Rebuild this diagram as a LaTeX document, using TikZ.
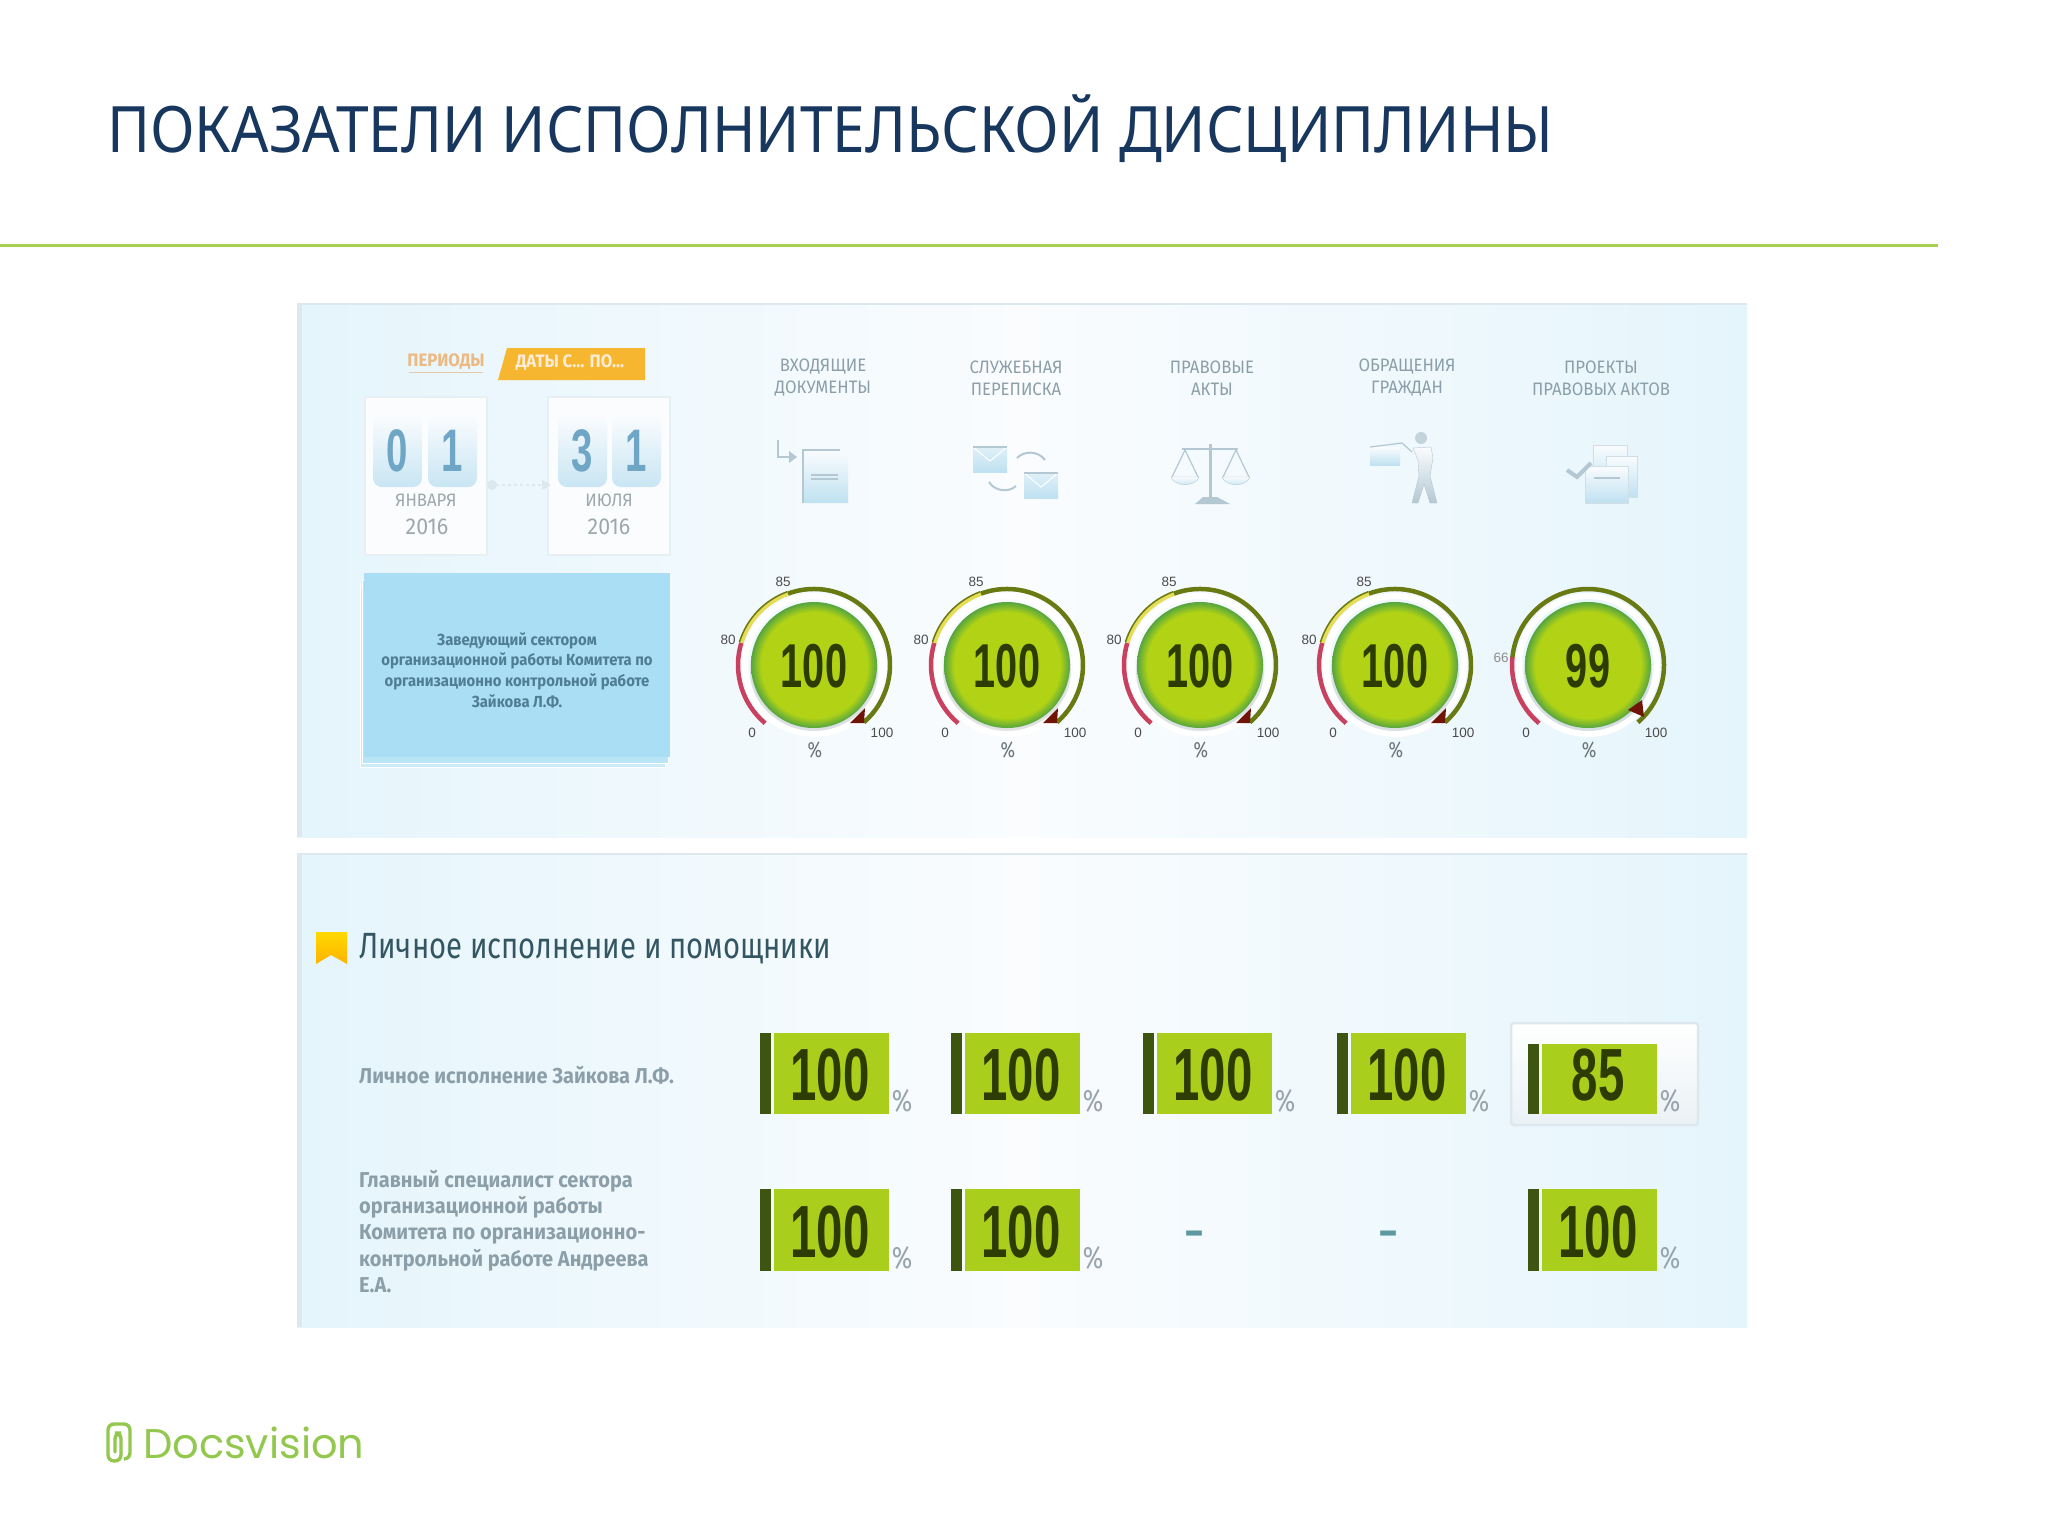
\documentclass[tikz,border=0pt]{standalone}
\usepackage{fontspec}
\setmainfont{Noto Sans}
\newfontfamily\titlefont[FakeStretch=0.917]{Noto Sans}
\newfontfamily\condfont[FakeStretch=0.8]{Fira Sans}
\newfontfamily\midfont[FakeStretch=0.93]{Fira Sans}
\newfontfamily\numfont[FakeStretch=0.64]{Liberation Sans}
\newfontfamily\tickfont{Liberation Sans}
\newfontfamily\dashfont{DejaVu Sans}
\newfontfamily\logofont{Poppins}
\usetikzlibrary{arrows.meta}
\newcommand{\fs}[2]{\fontsize{#1}{#2}\selectfont}
\definecolor{titleblue}{HTML}{17375E}
\definecolor{rulegreen}{HTML}{A8CE52}
\definecolor{panelblue}{HTML}{E5F5FC}
\definecolor{panelwhite}{HTML}{FAFCFE}
\definecolor{paneledge}{HTML}{DCE8EE}
\definecolor{headgray}{HTML}{8C9FA9}
\definecolor{icongray}{HTML}{B4C8D3}
\definecolor{iconblue}{HTML}{BFE1F1}
\definecolor{cardblue}{HTML}{A9DEF5}
\definecolor{cardtext}{HTML}{4F7D93}
\definecolor{digitblue}{HTML}{6FA6C6}
\definecolor{tabamber}{HTML}{F6B630}
\definecolor{ballgreen}{HTML}{B2D315}
\definecolor{ballrim}{HTML}{55A540}
\definecolor{ringred}{HTML}{C8415F}
\definecolor{ringyellow}{HTML}{E6DC55}
\definecolor{ringolive}{HTML}{6A7A12}
\definecolor{darkred}{HTML}{701408}
\definecolor{numdark}{HTML}{2C3C02}
\definecolor{bardark}{HTML}{3E5511}
\definecolor{boxgreen}{HTML}{A9CE1C}
\definecolor{pctgray}{HTML}{98A5AE}
\definecolor{dashteal}{HTML}{5E98A0}
\definecolor{logogreen}{HTML}{93C84E}
\pgfdeclareradialshading{gaugeball}{\pgfpoint{0bp}{0bp}}{color(0bp)=(ballgreen); color(21bp)=(ballgreen); color(25bp)=(ballrim); color(50bp)=(ballrim)}
\tikzset{
	panel/.style={left color=panelblue,right color=panelblue,middle color=panelwhite},
	headlabel/.style={text=headgray,align=center,font=\midfont\fs{18}{22}},
	monthlabel/.style={text=black!28!paneledge,font=\midfont\fs{18}{20}},
	yearlabel/.style={text=black!28!paneledge,font=\midfont\fs{23}{25}},
	digittile/.style={rounded corners=9pt,top color=panelwhite,bottom color=iconblue!85!white},
	digitnum/.style={text=digitblue,font=\numfont\bfseries\fs{60}{60}},
	datecard/.style={draw=paneledge!70!white,line width=2pt,fill=panelwhite},
	gaugenum/.style={text=numdark,font=\numfont\bfseries\fs{62}{62}},
	gaugetick/.style={text=black!70,font=\tickfont\fs{13.5}{14}},
	gaugepct/.style={text=pctgray!70!black,font=\condfont\fs{22}{22}},
	boxnum/.style={text=numdark,font=\numfont\bfseries\fs{74}{74}},
	boxpct/.style={text=pctgray,font=\condfont\fs{31}{31}},
	rowlabel/.style={text=headgray,align=left,font=\midfont\bfseries\fs{21.5}{26.2}},
	iconfill/.style={top color=panelwhite,bottom color=iconblue},
	iconline/.style={draw=icongray,line width=1.2pt},
}
\begin{document}
\begin{tikzpicture}[x=1pt,y=-1pt]
	\useasboundingbox (0,0) rectangle (2048,1536);
	\fill[white] (0,0) rectangle (2048,1536);
	% title
	\node[anchor=base west,inner sep=0pt,text=titleblue,font=\titlefont\fs{64}{64}] (slidetitle) at (107,153) {ПОКАЗАТЕЛИ ИСПОЛНИТЕЛЬСКОЙ ДИСЦИПЛИНЫ};
	\draw[rulegreen,line width=3pt] (0,245) -- (1938,245);
	% panels
	\shade[panel] (297,303) rectangle (1747,837);
	\shade[panel] (297,853) rectangle (1747,1327);
	\foreach \top/\bot in {303/837,853/1327} {
		\fill[paneledge] (297,\top) rectangle (302,\bot);
		\fill[paneledge] (297,\top) rectangle (1747,{\top+2});
	}
	% periods
	\node[text=orange!45!paneledge,font=\midfont\bfseries\fs{18}{20}] (periods) at (446,362) {ПЕРИОДЫ};
	\draw[orange!30!paneledge,line width=1pt] (409,372) -- (483,372);
	\fill[tabamber] (507,348) -- (645,348) -- (645,380) -- (498,380) -- cycle;
	\node[text=orange!15!white,font=\midfont\bfseries\fs{18}{20}] (dates) at (570,363) {ДАТЫ С... ПО...};
	% date cards
	\draw[datecard] (365,397) rectangle (487,555);
	\draw[datecard] (548,397) rectangle (670,555);
	\foreach \i/\x/\d in {a/373/0,b/428/1,c/558/3,d/612/1} {
		\shade[digittile] (\x,415) rectangle ({\x+49},487);
		\node[digitnum] (digit\i) at ({\x+24},451) {\d};
	}
	\node[monthlabel] (monthfrom) at (426,500) {ЯНВАРЯ};
	\node[yearlabel] (yearfrom) at (427,527) {2016};
	\node[monthlabel] (monthto) at (609,500) {ИЮЛЯ};
	\node[yearlabel] (yearto) at (609,527) {2016};
	\coordinate (datefrom) at (487,485);
	\coordinate (dateto) at (551,485);
	\draw[paneledge,line width=2pt,dashed,{Circle[length=10pt]}-{Triangle[length=9pt,width=10pt]}] (datefrom) -- (dateto);
	% person card
	\draw[fill=cardblue!60!white,draw=white,line width=1pt] (360,585) rectangle (665,767);
	\draw[fill=cardblue!80!white,draw=white,line width=1pt] (362,580) rectangle (668,763);
	\fill[cardblue] (364,573) rectangle (670,757);
	\node[text=cardtext,align=center,font=\midfont\bfseries\fs{16}{20.6}] (personcard) at (517,670) {Заведующий сектором\\организационной работы Комитета по\\организационно контрольной работе\\Зайкова Л.Ф.};
	% column heads
	\node[headlabel] (heada) at (823,378) {ВХОДЯЩИЕ\\ДОКУМЕНТЫ};
	\node[headlabel] (headb) at (1016,378) {СЛУЖЕБНАЯ\\ПЕРЕПИСКА};
	\node[headlabel] (headc) at (1212,378) {ПРАВОВЫЕ\\АКТЫ};
	\node[headlabel] (headd) at (1407,378) {ОБРАЩЕНИЯ\\ГРАЖДАН};
	\node[headlabel] (heade) at (1601,378) {ПРОЕКТЫ\\ПРАВОВЫХ АКТОВ};
	% icon incoming
	\draw[iconline] (778,440) -- (778,457) -- (790,457);
	\fill[icongray] (789,451) -- (797,457) -- (789,463) -- cycle;
	\shade[iconfill] (803,450) -- (840,450) -- (848,458) -- (848,503) -- (803,503) -- cycle;
	\draw[iconline] (803,503) -- (803,450) -- (840,450);
	\draw[iconline] (811,475) -- (838,475);
	\draw[iconline] (811,479) -- (838,479);
	% icon mail
	\foreach \x/\y in {973/447,1024/473} {
		\shade[top color=iconblue!50!white,bottom color=iconblue] (\x,\y) rectangle ({\x+34},{\y+25});
		\draw[white,line width=1pt] (\x,\y) -- ({\x+17},{\y+14}) -- ({\x+34},\y);
		\draw[iconline] (\x,\y) -- ({\x+34},\y);
	}
	\draw[iconline,line width=2pt] (1017,458) to[bend left=50] (1045,460);
	\draw[iconline,line width=2pt] (989,482) to[bend right=50] (1016,486);
	% icon scales
	\draw[iconline,line width=2pt] (1182,449) -- (1238,449);
	\draw[iconline,line width=3pt] (1210,444) -- (1210,498);
	\fill[icongray] (1195,504) -- (1203,497) -- (1217,497) -- (1230,504) -- cycle;
	\foreach \x in {1185,1236} {
		\draw[iconline] ({\x-13},477) -- (\x,450) -- ({\x+13},477);
		\shade[iconfill,draw=icongray] ({\x-14},477) -- ({\x+14},477) to[bend left=70] ({\x-14},477);
	}
	% icon citizen
	\shade[iconfill] (1370,447) -- (1400,447) -- (1400,465) -- (1370,465) -- cycle;
	\draw[iconline] (1370,447) -- (1402,443) -- (1412,452);
	\fill[icongray!80!white] (1421,438) circle[radius=6];
	\shade[top color=panelwhite,bottom color=icongray,draw=icongray] (1413,448) -- (1431,447) -- (1433,458) -- (1430,476) -- (1437,503) -- (1430,503) -- (1424,484) -- (1418,503) -- (1412,503) -- (1419,476) -- (1418,460) -- cycle;
	% icon drafts
	\shade[iconfill,draw=icongray!60!white] (1593,445) rectangle (1627,490);
	\shade[iconfill,draw=icongray!60!white] (1606,456) rectangle (1637,497);
	\shade[iconfill,draw=icongray!60!white] (1585,466) rectangle (1628,503);
	\draw[iconline] (1594,478) -- (1620,478);
	\draw[icongray,line width=4pt] (1567,470) -- (1577,477) -- (1591,463);
	% gauges
	\foreach \i/\cx/\val in {a/814/100,b/1007/100,c/1200/100,d/1395/100} {
		\fill[black!30,opacity=0.35] (\cx,670) circle[radius=64];
		\draw[white,line width=6pt] (\cx,665) circle[radius=69];
		\draw[ringred,line width=4.5pt] (\cx,665) ++(-230:76) arc[start angle=-230,end angle=-163,radius=76];
		\draw[ringyellow,line width=4.5pt] (\cx,665) ++(-163:76) arc[start angle=-163,end angle=-110,radius=76];
		\draw[ringolive,line width=1.5pt] (\cx,665) ++(-163:78) arc[start angle=-163,end angle=-110,radius=78];
		\draw[ringolive,line width=4.5pt] (\cx,665) ++(-110:76) arc[start angle=-110,end angle=49,radius=76];
		\shade[shading=gaugeball] (\cx,665) circle[radius=63];
		\fill[darkred] ({\cx+50},{665+58}) -- ({\cx+36},{665+58}) -- ({\cx+51},{665+43}) -- cycle;
		\node[gaugenum] (num\i) at (\cx,666) {\val};
		\node[gaugetick] (tickb\i) at ({\cx-31},582) {85};
		\node[gaugetick] (ticka\i) at ({\cx-86},640) {80};
		\node[gaugetick] (tickzero\i) at ({\cx-62},733) {0};
		\node[gaugetick] (tickfull\i) at ({\cx+68},733) {100};
		\node[gaugepct] (pct\i) at ({\cx+1},750) {\%};
	}
	\fill[black!30,opacity=0.35] (1588,670) circle[radius=64];
	\draw[white,line width=6pt] (1588,665) circle[radius=69];
	\draw[ringred,line width=4.5pt] (1588,665) ++(-230:76) arc[start angle=-230,end angle=-174,radius=76];
	\draw[ringolive,line width=4.5pt] (1588,665) ++(-174:76) arc[start angle=-174,end angle=49,radius=76];
	\shade[shading=gaugeball] (1588,665) circle[radius=63];
	\fill[darkred] (1642,700) -- (1628,710) -- (1644,717) -- cycle;
	\node[gaugenum] (nume) at (1588,666) {99};
	\node[gaugetick,text=black!45] (tickae) at (1501,658) {66};
	\node[gaugetick] (tickzeroe) at (1526,733) {0};
	\node[gaugetick] (tickfulle) at (1656,733) {100};
	\node[gaugepct] (pcte) at (1589,750) {\%};
	% table head
	\shade[top color=yellow!70!orange,bottom color=orange!60!yellow] (316,932) -- (347,932) -- (347,964) -- (331,955) -- (316,964) -- cycle;
	\node[anchor=west,inner sep=0pt,text=blue!15!teal!40!black!80,font=\condfont\fs{36.5}{37}] (tablehead) at (359,949) {Личное исполнение и помощники};
	\node[anchor=west,inner sep=0pt,rowlabel] (rowa) at (359,1075) {Личное исполнение Зайкова Л.Ф.};
	\node[anchor=north west,inner sep=0pt,rowlabel] (rowb) at (359,1170) {Главный специалист сектора\\организационной работы\\Комитета по организационно-\\контрольной работе Андреева\\Е.А.};
	% table boxes
	\draw[draw=paneledge,line width=2.5pt,rounded corners=3pt,top color=white,bottom color=paneledge!60!white] (1511,1023) rectangle (1698,1125);
	\foreach \i/\bx/\ty/\by/\val in {aa/760/1033/1114/100,ab/951/1033/1114/100,ac/1143/1033/1114/100,ad/1337/1033/1114/100,ae/1528/1044/1114/85,ba/760/1189/1271/100,bb/951/1189/1271/100,be/1528/1189/1271/100} {
		\fill[bardark] (\bx,\ty) rectangle ({\bx+11},\by);
		\fill[boxgreen] ({\bx+14},\ty) rectangle ({\bx+129},\by);
		\node[boxnum] (box\i) at ({\bx+70},{\by-39}) {\val};
		\node[boxpct] (pct\i) at ({\bx+142},{\by-13}) {\%};
	}
	\node[text=dashteal,font=\dashfont\bfseries\fs{40}{40}] (dashc) at (1194,1238) {–};
	\node[text=dashteal,font=\dashfont\bfseries\fs{40}{40}] (dashd) at (1388,1238) {–};
	% logo
	\draw[logogreen,line width=3.4pt,line cap=round,rounded corners=6pt] (125,1459) -- (130,1459) -- (130,1424) -- (108,1424) -- (108,1461) -- (121,1461) -- (121,1433) -- (115,1433) -- (115,1452);
	\node[anchor=base west,inner sep=0pt,text=logogreen,font=\logofont\fs{41.5}{44}] (logo) at (143,1458) {Docsvision};
\end{tikzpicture}
\end{document}
